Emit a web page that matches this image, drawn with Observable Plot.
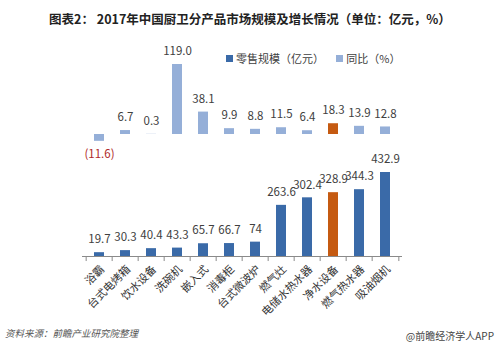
<!DOCTYPE html>
<html><head><meta charset="utf-8">
<script src="https://cdn.jsdelivr.net/npm/d3@7"></script>
<script src="https://cdn.jsdelivr.net/npm/@observablehq/plot@0.6"></script>
<style>
body{margin:0;background:#fff;font-family:"Noto Sans CJK SC","Noto Sans",sans-serif;}
#wrap{position:relative;width:500px;height:351px;overflow:hidden;background:#fff;}
#title{position:absolute;top:9px;left:0;width:500px;text-align:center;font-size:12.5px;font-weight:bold;color:#222;}
#legend{position:absolute;top:50px;left:226px;font-size:11px;color:#404040;white-space:nowrap;}
#legend span.sw{display:inline-block;width:7px;height:7px;margin-right:3px;vertical-align:1px;}
#topchart,#bottomchart{position:absolute;left:0;}
#topchart{top:40px;}
#bottomchart{top:150px;}
#src{position:absolute;left:5px;top:326px;font-size:9.5px;color:#555;font-style:italic;}
#app{position:absolute;right:6px;top:328px;font-size:10px;color:#444;}
</style></head>
<body><div id="wrap">
<div id="title">图表2： 2017年中国厨卫分产品市场规模及增长情况（单位：亿元，%）</div>
<div id="legend"><span class="sw" style="background:#3a6aa8"></span>零售规模（亿元）&nbsp;&nbsp;&nbsp;&nbsp;&nbsp;<span class="sw" style="background:#95afd8"></span>同比（%）</div>
<div id="topchart"></div>
<div id="bottomchart"></div>
<div id="src">资料来源：前瞻产业研究院整理</div>
<div id="app">@前瞻经济学人APP</div>
</div>
<script>
const categories = ["浴霸","台式电烤箱","饮水设备","洗碗机","嵌入式","消毒柜","台式微波炉","燃气灶","电储水热水器","净水设备","燃气热水器","吸油烟机"];
const retail = [19.7,30.3,40.4,43.3,65.7,66.7,74,263.6,302.4,328.9,344.3,432.9];
const growth = [-11.6,6.7,0.3,119.0,38.1,9.9,8.8,11.5,6.4,18.3,13.9,12.8];
const retailLabels = ["19.7","30.3","40.4","43.3","65.7","66.7","74","263.6","302.4","328.9","344.3","432.9"];
const highlight = "净水设备";

const rows = categories.map((c,i)=>({cat:c, retail:retail[i], growth:growth[i], rlabel:retailLabels[i]}));
const xRange = [82, 402];
const step = (xRange[1]-xRange[0])/categories.length;
const fontFam = '"Noto Sans CJK SC","Noto Sans",sans-serif';
const xScale = {domain:categories, range:xRange, paddingInner:0.62, paddingOuter:0.31};

const topPlot = Plot.plot({
  width:500, height:130,
  margin:0,
  style:{fontFamily:fontFam, fontSize:"11px", color:"#404040", background:"transparent"},
  x:{...xScale, axis:null},
  y:{domain:[0,119], range:[94,24], axis:null},
  marks:[
    Plot.barY(rows,{x:"cat", y:"growth", fill:d=>d.cat===highlight?"#c55a11":"#95afd8"}),
    Plot.text(rows.filter(d=>d.growth>=0),{x:"cat", y:"growth", text:d=>d.growth.toFixed(1), dy:-13, fill:"#404040", fontSize:11.5}),
    Plot.text(rows.filter(d=>d.growth<0),{x:"cat", y:"growth", text:d=>`(${Math.abs(d.growth).toFixed(1)})`, dy:13, fill:"#b02a2a", fontSize:11.5})
  ]
});
document.getElementById("topchart").appendChild(topPlot);

const bottomPlot = Plot.plot({
  width:500, height:185,
  marginTop:0, marginLeft:0, marginRight:0, marginBottom:79,
  style:{fontFamily:fontFam, fontSize:"11px", color:"#404040", background:"transparent"},
  x:{...xScale, label:null},
  y:{domain:[0,432.9], range:[106,22], axis:null},
  marks:[
    Plot.barY(rows,{x:"cat", y:"retail", fill:d=>d.cat===highlight?"#c55a11":"#3a6aa8"}),
    Plot.text(rows,{x:"cat", y:"retail", text:"rlabel", dy:-13, fill:"#404040", fontSize:11.5}),
    Plot.ruleY([0],{stroke:"#8a8a8a", strokeWidth:1, insetLeft:xRange[0], insetRight:500-xRange[1]}),
    Plot.ruleX(categories,{x:d=>d, y1:0, y2:-26, stroke:"#8a8a8a", dx:-step/2}),
    Plot.ruleX([categories[categories.length-1]],{x:d=>d, y1:0, y2:-26, stroke:"#8a8a8a", dx:step/2}),
    Plot.axisX({tickRotate:-45, tickSize:0, tickPadding:11, dx:3, fontSize:11, fill:"#333", label:null})
  ]
});
document.getElementById("bottomchart").appendChild(bottomPlot);
</script>
</body></html>
